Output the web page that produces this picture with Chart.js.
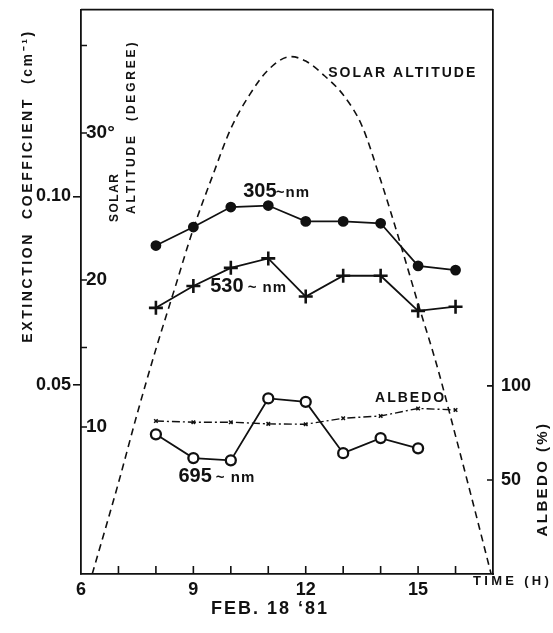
<!DOCTYPE html>
<html>
<head>
<meta charset="utf-8">
<script src="https://cdn.jsdelivr.net/npm/chart.js@4.4.0/dist/chart.umd.min.js"></script>
<style>
  html, body { margin: 0; padding: 0; background: #fff; }
  canvas { display: block; }
</style>
</head>
<body>
<canvas id="chart" width="553" height="633"></canvas>
<script>
// data
var hours = [8, 9, 10, 11, 12, 13, 14, 15, 16];
var ext305 = [0.0870, 0.0919, 0.0972, 0.0976, 0.0934, 0.0934, 0.0929, 0.0816, 0.0805];
var ext530 = [0.0705, 0.0763, 0.0811, 0.0836, 0.0735, 0.0790, 0.0790, 0.0697, 0.0708];
var hours695 = [8, 9, 10, 11, 12, 13, 14, 15];
var ext695 = [0.0370, 0.0307, 0.0301, 0.0465, 0.0456, 0.0320, 0.0360, 0.0333];
var albedo = [81.3, 80.7, 80.7, 79.8, 79.6, 82.8, 84.0, 88.0, 87.2];

var solarTime = [6.3, 7, 7.5, 8, 8.5, 9, 9.5, 10, 10.5, 11, 11.6, 12, 12.5, 13, 13.5, 14, 14.5, 15, 15.5, 16, 16.5, 16.95];
var solarAlt = [0, 6.2, 10.9, 15.3, 19.4, 23.5, 27.0, 30.3, 32.6, 34.3, 35.2, 34.9, 33.9, 32.6, 30.5, 26.8, 22.7, 18.4, 14.2, 9.4, 4.5, 0];

// tick labels
var timeLabels = [6, 9, 12, 15];
var extTicks = [0.05, 0.10];
var extMinorTicks = [0.06, 0.14];
var altTicks = [10, 20, 30];
var albTicks = [50, 100];

var INK = '#111';
Chart.defaults.font.family = "'Liberation Sans', Arial, sans-serif";
Chart.defaults.color = INK;

function pts(xs, ys) {
  return ys.map(function(y, i) { return { x: xs[i], y: y }; });
}

function setTicks(list) {
  return function(scale) {
    scale.ticks = list.map(function(v) { return { value: v }; });
  };
}

// fixed axis size, no label overhang padding
function fixSize(w, h) {
  return function(scale) {
    if (w !== null) scale.width = w;
    if (h !== null) scale.height = h;
    scale.paddingTop = 0;
    scale.paddingBottom = 0;
    scale.paddingLeft = 0;
    scale.paddingRight = 0;
  };
}

function drawText(ctx, str, x, y, font, align, spacing, rot) {
  ctx.save();
  ctx.translate(x, y);
  if (rot) ctx.rotate(rot);
  ctx.font = font;
  ctx.letterSpacing = (spacing || 0) + 'px';
  ctx.textAlign = align || 'left';
  ctx.textBaseline = 'middle';
  ctx.fillStyle = INK;
  ctx.fillText(str, 0, 0);
  ctx.restore();
}

// inward ticks, box top, and text labels
var decorations = {
  id: 'decorations',
  afterDraw: function(chart) {
    var ctx = chart.ctx;
    var a = chart.chartArea;
    var s = chart.scales;
    ctx.save();
    ctx.strokeStyle = INK;
    ctx.lineWidth = 1.6;
    ctx.beginPath();
    ctx.moveTo(a.left, a.top);
    ctx.lineTo(a.right, a.top);
    // time ticks
    s.x.ticks.forEach(function(t) {
      if (t.value <= s.x.min || t.value >= s.x.max) return;
      var px = s.x.getPixelForValue(t.value);
      ctx.moveTo(px, a.bottom);
      ctx.lineTo(px, a.bottom - 8);
    });
    altTicks.forEach(function(v) {
      var py = s.alt.getPixelForValue(v);
      ctx.moveTo(a.left, py);
      ctx.lineTo(a.left + 6, py);
    });
    extMinorTicks.forEach(function(v) {
      var py = s.ext.getPixelForValue(v);
      ctx.moveTo(a.left, py);
      ctx.lineTo(a.left + 6, py);
    });
    albTicks.forEach(function(v) {
      var py = s.alb.getPixelForValue(v);
      ctx.moveTo(a.right, py);
      ctx.lineTo(a.right - 6, py);
    });
    ctx.stroke();
    ctx.restore();

    var X = function(v) { return s.x.getPixelForValue(v); };
    var B = "bold ";
    var F = "px 'Liberation Sans', Arial, sans-serif";

    // series labels
    drawText(ctx, 'SOLAR ALTITUDE', X(12.6), s.alt.getPixelForValue(34.1), B + 14 + F, 'left', 2);
    drawText(ctx, '305', X(10.33), s.ext.getPixelForValue(0.1013), B + 20 + F, 'left', 0);
    drawText(ctx, '~nm', X(11.2), s.ext.getPixelForValue(0.1009), B + 15 + F, 'left', 1);
    drawText(ctx, '530', X(9.45), s.ext.getPixelForValue(0.0761), B + 20 + F, 'left', 0);
    drawText(ctx, '~ nm', X(10.45), s.ext.getPixelForValue(0.0757), B + 15 + F, 'left', 1);
    drawText(ctx, '695', X(8.6), s.ext.getPixelForValue(0.0259), B + 20 + F, 'left', 0);
    drawText(ctx, '~ nm', X(9.6), s.ext.getPixelForValue(0.0255), B + 15 + F, 'left', 1);
    drawText(ctx, 'ALBEDO', X(13.85), s.alb.getPixelForValue(93.3), B + 14 + F, 'left', 2);

    // axis titles
    drawText(ctx, 'EXTINCTION  COEFFICIENT  (cm\u207B\u00B9)', 28, 186, B + 14 + F, 'center', 2.6, -Math.PI / 2);
    drawText(ctx, 'SOLAR', 115, 222, B + 12 + F, 'left', 1.5, -Math.PI / 2);
    drawText(ctx, 'ALTITUDE  (DEGREE)', 132, 214, B + 12 + F, 'left', 2.8, -Math.PI / 2);
    drawText(ctx, 'ALBEDO (%)', 543, 479, B + 15 + F, 'center', 2.4, -Math.PI / 2);
    drawText(ctx, 'TIME (H)', 473, 581, B + 13 + F, 'left', 3.3);
    drawText(ctx, 'FEB. 18 \u201881', 270, 609, B + 18 + F, 'center', 2);
  }
};

new Chart(document.getElementById('chart'), {
  type: 'line',
  data: {
    datasets: [
      {
        label: 'Solar altitude',
        data: pts(solarTime, solarAlt),
        yAxisID: 'alt',
        borderColor: INK,
        borderWidth: 1.6,
        borderDash: [7, 5],
        pointRadius: 0,
        cubicInterpolationMode: 'monotone',
        fill: false
      },
      {
        label: '305 nm',
        data: pts(hours, ext305),
        yAxisID: 'ext',
        borderColor: INK,
        borderWidth: 1.8,
        pointStyle: 'circle',
        pointRadius: 4.5,
        pointBackgroundColor: INK,
        pointBorderColor: INK,
        fill: false
      },
      {
        label: '530 nm',
        data: pts(hours, ext530),
        yAxisID: 'ext',
        borderColor: INK,
        borderWidth: 1.8,
        pointStyle: 'cross',
        pointRadius: 7,
        pointBorderWidth: 2.6,
        pointBorderColor: INK,
        fill: false
      },
      {
        label: '695 nm',
        data: pts(hours695, ext695),
        yAxisID: 'ext',
        borderColor: INK,
        borderWidth: 1.8,
        pointStyle: 'circle',
        pointRadius: 5,
        pointBorderWidth: 2.3,
        pointBackgroundColor: '#fff',
        pointBorderColor: INK,
        fill: false
      },
      {
        label: 'Albedo',
        data: pts(hours, albedo),
        yAxisID: 'alb',
        borderColor: INK,
        borderWidth: 1.4,
        borderDash: [8, 3, 2, 3],
        pointStyle: 'crossRot',
        pointRadius: 2.5,
        pointBorderWidth: 1.5,
        pointBorderColor: INK,
        fill: false
      }
    ]
  },
  options: {
    responsive: false,
    animation: false,
    events: [],
    layout: { padding: { top: 7, left: 0, right: 0, bottom: 0 } },
    plugins: { legend: { display: false }, tooltip: { enabled: false } },
    scales: {
      x: {
        type: 'linear',
        position: 'bottom',
        min: 6,
        max: 17,
        grid: { display: false, drawTicks: false },
        border: { display: true, color: INK, width: 1.8 },
        ticks: {
          stepSize: 1,
          autoSkip: false,
          maxRotation: 0,
          padding: 5,
          font: { size: 18, weight: 'bold' },
          callback: function(v) { return timeLabels.indexOf(v) >= 0 ? String(v) : ''; }
        },
        afterFit: fixSize(null, 59)
      },
      ext: {
        type: 'linear',
        position: 'left',
        weight: 1,
        min: 0,
        max: 0.1495,
        afterBuildTicks: setTicks(extTicks),
        grid: { display: true, drawOnChartArea: false, drawTicks: true, tickLength: 8, color: INK, lineWidth: 1.6 },
        border: { display: true, color: INK, width: 1.8 },
        ticks: {
          padding: 2,
          font: { size: 18, weight: 'bold' },
          callback: function(v) { return v.toFixed(2); }
        },
        afterFit: fixSize(81, null)
      },
      alt: {
        type: 'linear',
        position: 'left',
        weight: 0,
        min: 0,
        max: 38.4,
        afterBuildTicks: setTicks(altTicks),
        grid: { display: false, drawTicks: false },
        border: { display: false },
        ticks: {
          mirror: true,
          padding: 5,
          font: { size: 19, weight: 'bold' },
          callback: function(v) { return v === 30 ? '30\u00B0' : String(v); }
        },
        afterFit: fixSize(0, null)
      },
      alb: {
        type: 'linear',
        position: 'right',
        min: 0,
        max: 300,
        afterBuildTicks: setTicks(albTicks),
        grid: { display: false, drawTicks: false },
        border: { display: true, color: INK, width: 1.8 },
        ticks: {
          padding: 8,
          font: { size: 18, weight: 'bold' },
          callback: function(v) { return String(v); }
        },
        afterFit: fixSize(60, null)
      }
    }
  },
  plugins: [decorations]
});
</script>
</body>
</html>
